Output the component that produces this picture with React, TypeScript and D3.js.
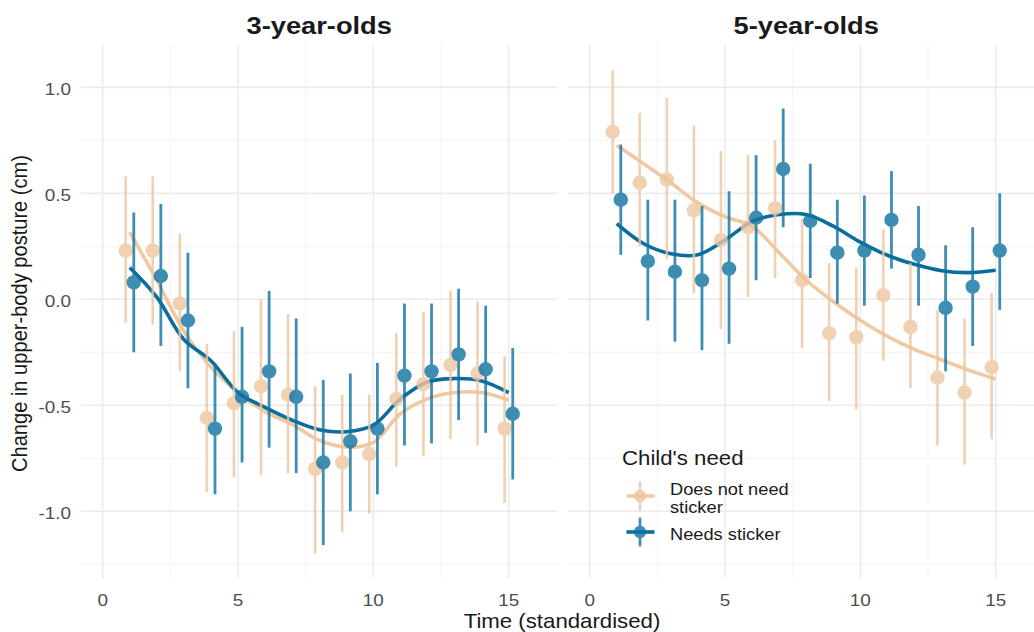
import React from "react";
import * as d3 from "d3";

// Time points (standardised)
const TIMES = [1, 2, 3, 4, 5, 6, 7, 8, 9, 10, 11, 12, 13, 14, 15];
const PANELS = ["3-year-olds", "5-year-olds"];
const GROUPS = ["Does not need sticker", "Needs sticker"];
const X_TICKS = [0, 5, 10, 15];
const X_MINOR = [2.5, 7.5, 12.5];
const Y_TICKS = [-1, -0.5, 0, 0.5, 1];
const Y_MINOR = [-1.25, -0.75, -0.25, 0.25, 0.75];

// 3-year-olds, does not need sticker
const age3NoNeedMean = [0.23, 0.23, -0.02, -0.56, -0.49, -0.41, -0.45, -0.8, -0.77, -0.73, -0.47, -0.4, -0.31, -0.35, -0.61];
const age3NoNeedLow = [-0.11, -0.12, -0.34, -0.91, -0.84, -0.83, -0.82, -1.2, -1.1, -1.01, -0.79, -0.74, -0.66, -0.69, -0.96];
const age3NoNeedHigh = [0.58, 0.58, 0.31, -0.21, -0.15, 0.0, -0.07, -0.41, -0.45, -0.45, -0.16, -0.06, 0.04, -0.01, -0.27];
const age3NoNeedFit = [0.317, 0.09, -0.15, -0.32, -0.44, -0.53, -0.59, -0.665, -0.697, -0.675, -0.54, -0.47, -0.44, -0.44, -0.476];

// 3-year-olds, needs sticker
const age3NeedMean = [0.08, 0.11, -0.1, -0.61, -0.46, -0.34, -0.46, -0.77, -0.67, -0.61, -0.36, -0.34, -0.26, -0.33, -0.54];
const age3NeedLow = [-0.25, -0.22, -0.42, -0.92, -0.77, -0.7, -0.82, -1.16, -1.0, -0.92, -0.69, -0.68, -0.57, -0.63, -0.85];
const age3NeedHigh = [0.41, 0.45, 0.22, -0.3, -0.13, 0.04, -0.09, -0.38, -0.35, -0.3, -0.02, -0.02, 0.05, -0.03, -0.23];
const age3NeedFit = [0.15, 0.01, -0.19, -0.29, -0.44, -0.51, -0.57, -0.615, -0.625, -0.594, -0.47, -0.39, -0.374, -0.385, -0.44];

// 5-year-olds, does not need sticker
const age5NoNeedMean = [0.79, 0.55, 0.565, 0.42, 0.28, 0.34, 0.43, 0.09, -0.16, -0.18, 0.02, -0.13, -0.37, -0.44, -0.32];
const age5NoNeedLow = [0.5, 0.25, 0.19, 0.03, -0.14, 0.01, 0.1, -0.23, -0.48, -0.52, -0.29, -0.42, -0.69, -0.78, -0.66];
const age5NoNeedHigh = [1.08, 0.88, 0.95, 0.82, 0.7, 0.68, 0.75, 0.38, 0.17, 0.15, 0.33, 0.17, -0.05, -0.09, 0.03];
const age5NoNeedFit = [0.726, 0.64, 0.55, 0.455, 0.39, 0.345, 0.22, 0.09, -0.01, -0.099, -0.175, -0.236, -0.285, -0.334, -0.376];

// 5-year-olds, needs sticker
const age5NeedMean = [0.47, 0.18, 0.13, 0.09, 0.145, 0.385, 0.615, 0.37, 0.22, 0.23, 0.375, 0.21, -0.04, 0.06, 0.23];
const age5NeedLow = [0.21, -0.1, -0.2, -0.24, -0.21, 0.09, 0.34, 0.1, -0.02, -0.03, 0.145, -0.03, -0.34, -0.22, -0.05];
const age5NeedHigh = [0.73, 0.47, 0.47, 0.44, 0.51, 0.68, 0.9, 0.64, 0.47, 0.49, 0.605, 0.44, 0.255, 0.34, 0.5];
const age5NeedFit = [0.357, 0.262, 0.215, 0.21, 0.28, 0.367, 0.4, 0.4, 0.345, 0.27, 0.208, 0.165, 0.135, 0.126, 0.137];

const SERIES = [
  [
    { mean: age3NoNeedMean, low: age3NoNeedLow, high: age3NoNeedHigh, fit: age3NoNeedFit },
    { mean: age3NeedMean, low: age3NeedLow, high: age3NeedHigh, fit: age3NeedFit },
  ],
  [
    { mean: age5NoNeedMean, low: age5NoNeedLow, high: age5NoNeedHigh, fit: age5NoNeedFit },
    { mean: age5NeedMean, low: age5NeedLow, high: age5NeedHigh, fit: age5NeedFit },
  ],
];

const COLORS = ["#EFC9A4", "#0B6D9C"];
const POINT_COLORS = ["#EDC6A0", "#0F72A2"];
const DODGE = [-0.15, 0.15];

const FONT = "'Liberation Sans', Arial, sans-serif";
const STRETCH = 1.1; // slightly wide lettering
const W = 1034;
const H = 632;
const PANEL_TOP = 45;
const PANEL_BOTTOM = 578;
const PANEL_LEFTS = [81, 568];
const PANEL_W = 476.4;

const y = d3.scaleLinear().domain([-1.315, 1.2]).range([PANEL_BOTTOM, PANEL_TOP]);

type LabelProps = {
  x: number;
  y: number;
  size: number;
  anchor?: "start" | "middle" | "end";
  weight?: string;
  fill?: string;
  vertical?: boolean;
  children: React.ReactNode;
};

function Label({ x, y, size, anchor = "start", weight = "normal", fill = "#1a1a1a", vertical = false, children }: LabelProps) {
  const t = vertical
    ? `translate(${x},${y}) rotate(-90) scale(1,${STRETCH})`
    : `translate(${x},${y}) scale(${STRETCH},1)`;
  return (
    <text transform={t} textAnchor={anchor} fontSize={size} fontWeight={weight} fill={fill} fontFamily={FONT}>
      {children}
    </text>
  );
}

function Panel({ index }: { index: number }) {
  const left = PANEL_LEFTS[index];
  const x = d3.scaleLinear().domain([-0.8, 16.8]).range([left, left + PANEL_W]);
  const line = d3
    .line<number>()
    .x((_, i) => x(TIMES[i]))
    .y((v) => y(v))
    .curve(d3.curveCatmullRom.alpha(0.5));
  return (
    <g>
      {Y_MINOR.map((v) => (
        <line key={"ym" + v} x1={left} x2={left + PANEL_W} y1={y(v)} y2={y(v)} stroke="#f2f2f2" strokeWidth={0.9} />
      ))}
      {X_MINOR.map((v) => (
        <line key={"xm" + v} x1={x(v)} x2={x(v)} y1={PANEL_TOP} y2={PANEL_BOTTOM} stroke="#f2f2f2" strokeWidth={0.9} />
      ))}
      {Y_TICKS.map((v) => (
        <line key={"y" + v} x1={left} x2={left + PANEL_W} y1={y(v)} y2={y(v)} stroke="#ebebeb" strokeWidth={1.6} />
      ))}
      {X_TICKS.map((v) => (
        <line key={"x" + v} x1={x(v)} x2={x(v)} y1={PANEL_TOP} y2={PANEL_BOTTOM} stroke="#ebebeb" strokeWidth={1.6} />
      ))}
      {X_TICKS.map((v) => (
        <Label key={"xl" + v} x={x(v)} y={606} size={17.2} anchor="middle" fill="#4d4d4d">
          {v}
        </Label>
      ))}
      <Label x={left + PANEL_W / 2} y={34} size={24.8} anchor="middle" weight="bold">
        {PANELS[index]}
      </Label>
      {SERIES[index].map((s, g) => (
        <path key={"fit" + g} d={line(s.fit) || ""} fill="none" stroke={COLORS[g]} strokeWidth={3.6} />
      ))}
      {SERIES[index].map((s, g) => (
        <g key={"pts" + g} opacity={0.8}>
          {TIMES.map((t, i) => (
            <g key={t}>
              <line
                x1={x(t + DODGE[g])}
                x2={x(t + DODGE[g])}
                y1={y(s.low[i])}
                y2={y(s.high[i])}
                stroke={POINT_COLORS[g]}
                strokeWidth={g === 0 ? 2.6 : 2.8}
              />
              <circle cx={x(t + DODGE[g])} cy={y(s.mean[i])} r={7.2} fill={POINT_COLORS[g]} />
            </g>
          ))}
        </g>
      ))}
    </g>
  );
}

function Legend() {
  const keyX = 640;
  const keys = [496, 532];
  return (
    <g>
      <Label x={622} y={465} size={20.2}>
        Child's need
      </Label>
      {GROUPS.map((g, i) => (
        <g key={g}>
          <line x1={keyX - 13.5} x2={keyX + 14.5} y1={keys[i]} y2={keys[i]} stroke={COLORS[i]} strokeWidth={3.6} />
          <g opacity={0.8}>
            <line x1={keyX} x2={keyX} y1={keys[i] - 14.5} y2={keys[i] + 14.5} stroke={POINT_COLORS[i]} strokeWidth={2.8} />
            <circle cx={keyX} cy={keys[i]} r={6.2} fill={POINT_COLORS[i]} />
          </g>
        </g>
      ))}
      <Label x={670} y={495} size={16.6}>
        Does not need
      </Label>
      <Label x={670} y={512.5} size={16.6}>
        sticker
      </Label>
      <Label x={670} y={540} size={16.6}>
        Needs sticker
      </Label>
    </g>
  );
}

export default function App() {
  return (
    <svg
      width={W}
      height={H}
      viewBox={`0 0 ${W} ${H}`}
      style={{ position: "absolute", left: 0, top: 0, background: "#ffffff" }}
    >
      <rect x={0} y={0} width={W} height={H} fill="#ffffff" />
      <Panel index={0} />
      <Panel index={1} />
      {Y_TICKS.map((v) => (
        <Label key={v} x={71} y={y(v) + 7.5} size={17.2} anchor="end" fill="#4d4d4d">
          {v.toFixed(1)}
        </Label>
      ))}
      <Label x={27} y={313.5} size={20.1} anchor="middle" vertical>
        Change in upper-body posture (cm)
      </Label>
      <Label x={562} y={628} size={20.2} anchor="middle">
        Time (standardised)
      </Label>
      <Legend />
    </svg>
  );
}
